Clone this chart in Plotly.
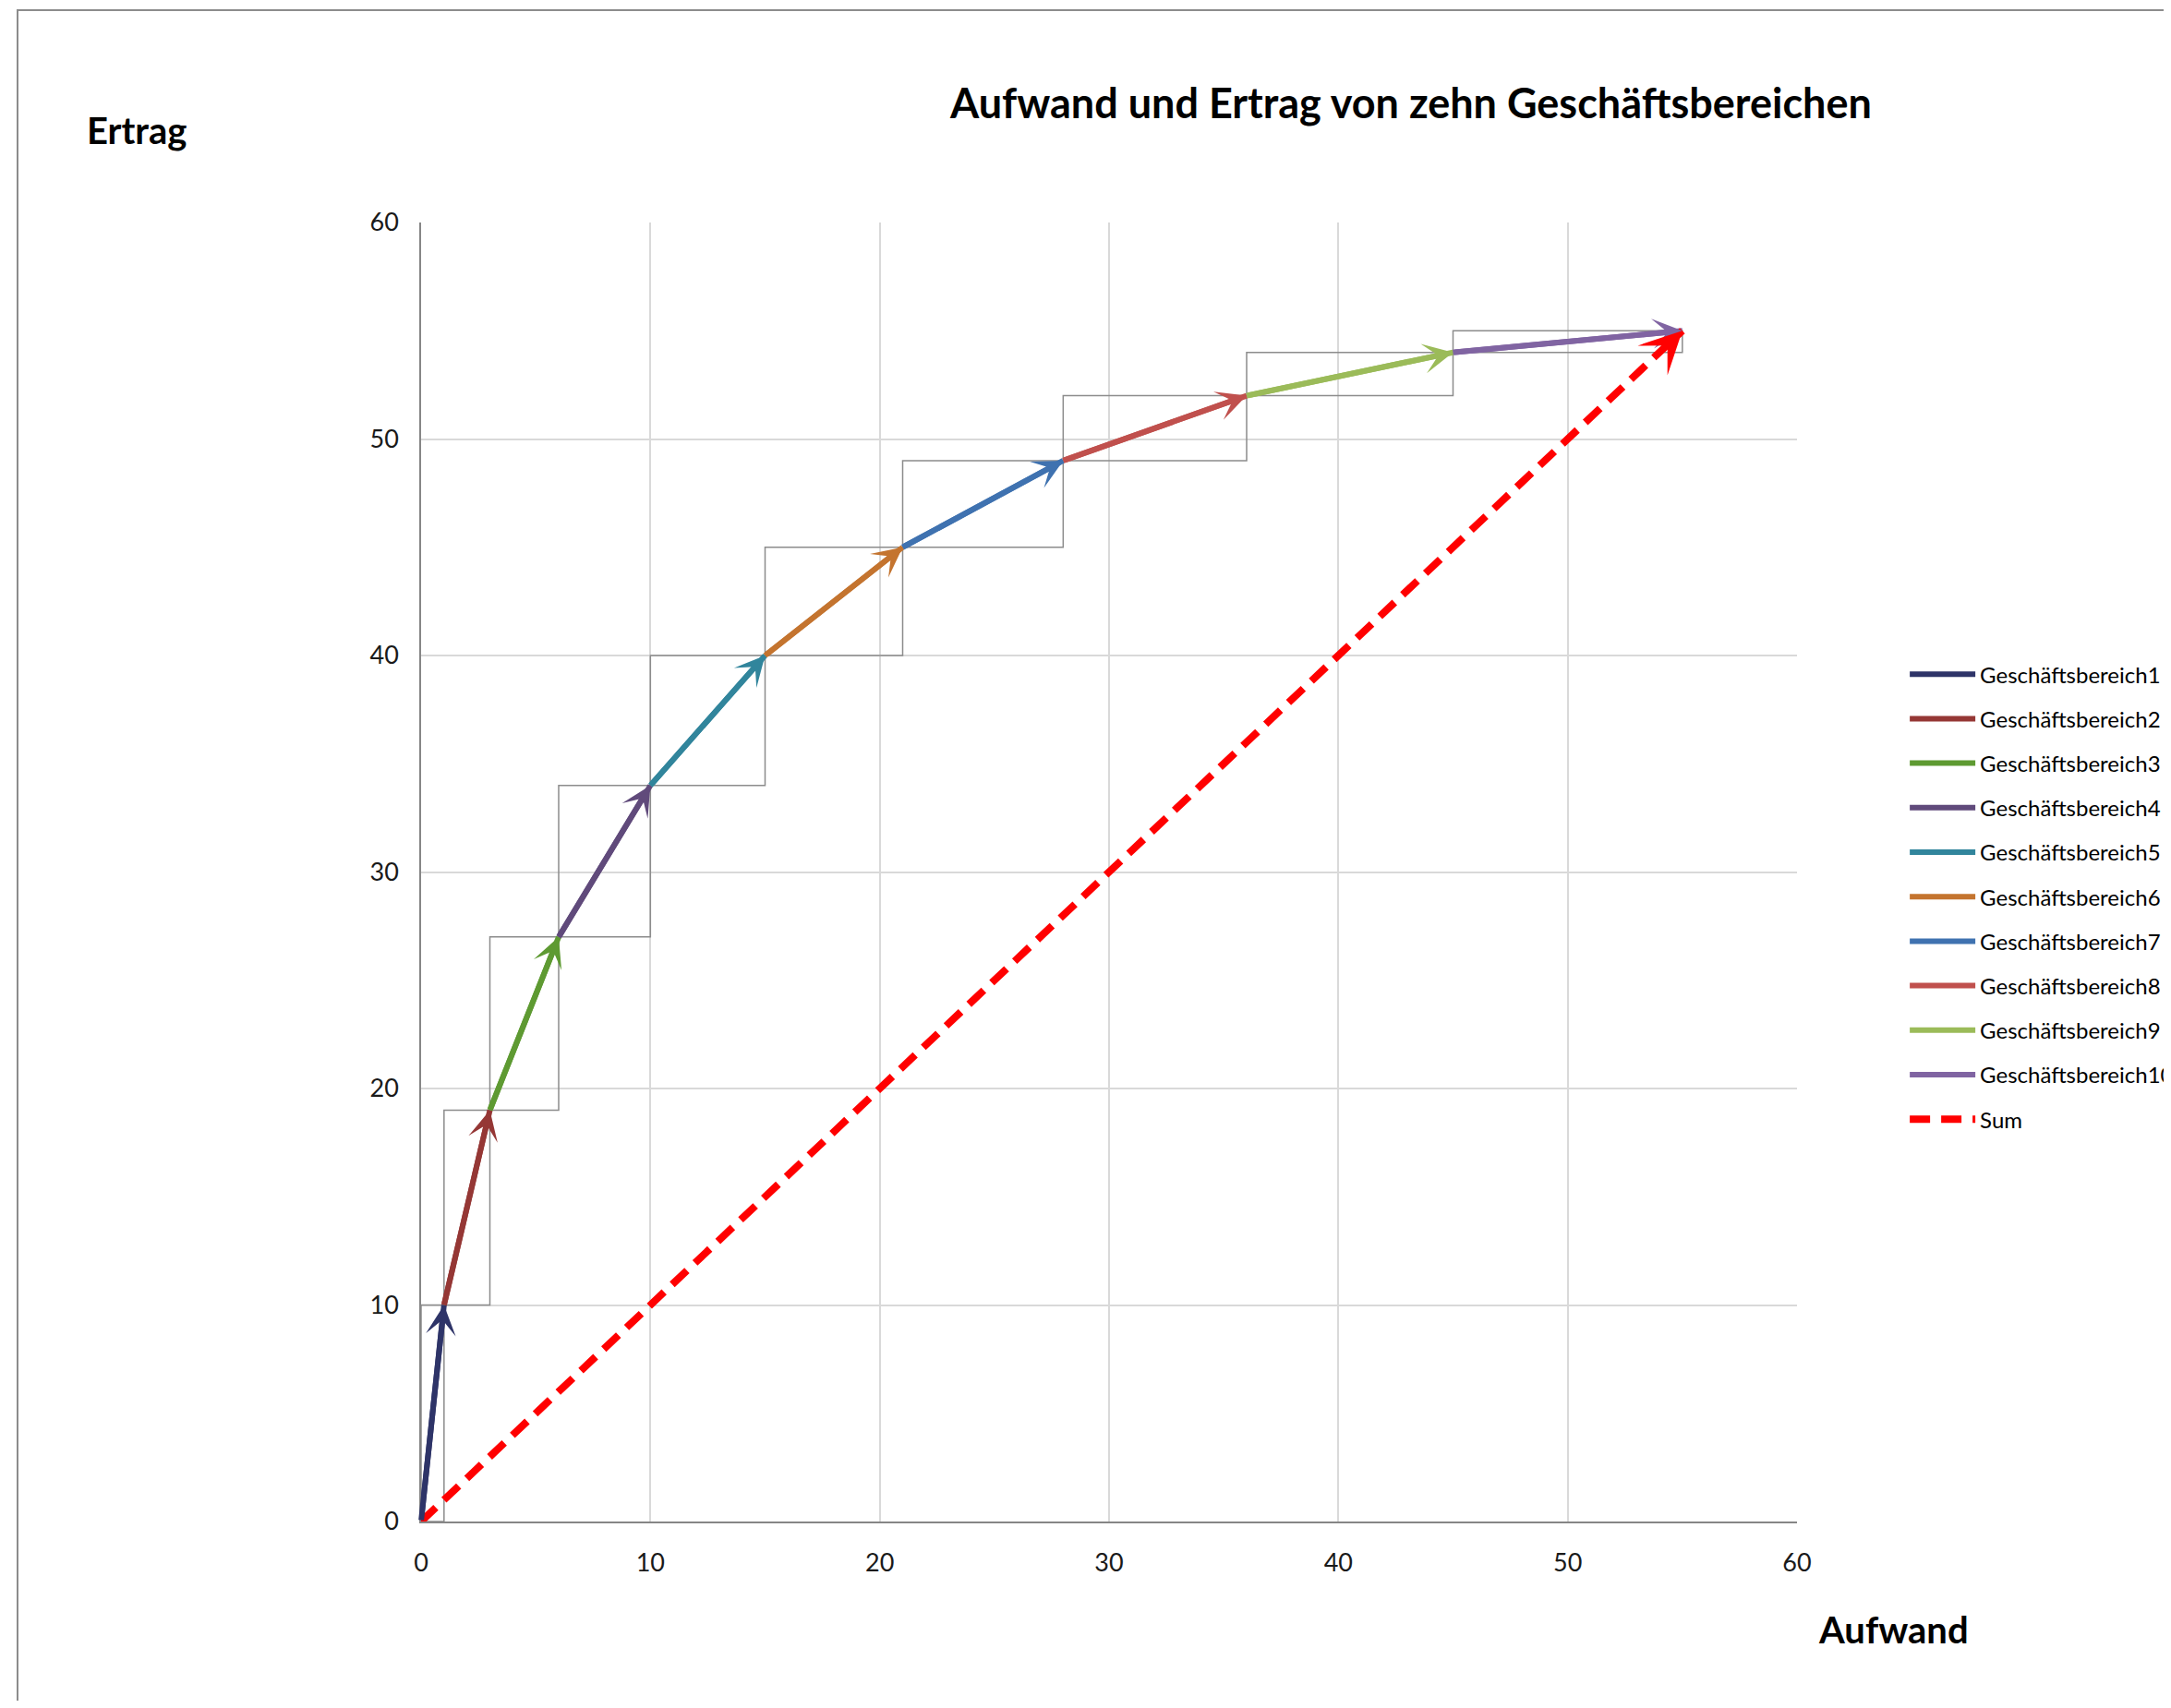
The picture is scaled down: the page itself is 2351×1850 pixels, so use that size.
import plotly.graph_objects as go
import numpy as np

# ---- data ----
bereiche = ["Geschäftsbereich1", "Geschäftsbereich2", "Geschäftsbereich3", "Geschäftsbereich4",
            "Geschäftsbereich5", "Geschäftsbereich6", "Geschäftsbereich7", "Geschäftsbereich8",
            "Geschäftsbereich9", "Geschäftsbereich10"]
aufwand = [1, 2, 3, 4, 5, 6, 7, 8, 9, 10]
ertrag = [10, 9, 8, 7, 6, 5, 4, 3, 2, 1]
colors = ["#2E3468", "#953735", "#5E9A32", "#604A7B", "#31859C",
          "#C4742F", "#3F72B0", "#C0504D", "#9BBB59", "#8064A2"]
sum_label = "Sum"
tick_vals = [0, 10, 20, 30, 40, 50, 60]

FONT = "Lato"
cx = np.concatenate([[0], np.cumsum(aufwand)])
cy = np.concatenate([[0], np.cumsum(ertrag)])

fig = go.Figure()

# grey bounding rectangles
for i in range(len(aufwand)):
    x0, x1, y0, y1 = cx[i], cx[i + 1], cy[i], cy[i + 1]
    fig.add_trace(go.Scatter(x=[x0, x1, x1, x0, x0], y=[y0, y0, y1, y1, y0], mode="lines",
                             line=dict(color="#8C8C8C", width=1.5), showlegend=False,
                             hoverinfo="skip"))

# segment arrows
annotations = []
for i, name in enumerate(bereiche):
    fig.add_trace(go.Scatter(x=[cx[i], cx[i + 1]], y=[cy[i], cy[i + 1]], mode="lines",
                             line=dict(color=colors[i], width=6), name=name,
                             legendgroup=name))
    annotations.append(dict(x=cx[i + 1], y=cy[i + 1], ax=cx[i], ay=cy[i],
                            xref="x", yref="y", axref="x", ayref="y", text="",
                            showarrow=True, arrowhead=3, arrowsize=0.9, arrowwidth=6,
                            arrowcolor=colors[i]))

# sum arrow
fig.add_trace(go.Scatter(x=[cx[0], cx[-1]], y=[cy[0], cy[-1]], mode="lines",
                         line=dict(color="#FF0000", width=8, dash="22px,12px"),
                         name=sum_label, legendgroup=sum_label))
annotations.append(dict(x=cx[-1], y=cy[-1], ax=-12, ay=12, xref="x", yref="y",
                        text="", showarrow=True, arrowhead=3, arrowsize=0.95,
                        arrowwidth=8, arrowcolor="#FF0000"))

# axis labels
annotations += [
    dict(text="<b>Ertrag</b>", xref="paper", yref="paper", x=-0.244, y=1.071,
         xanchor="left", yanchor="middle", showarrow=False,
         font=dict(family=FONT, size=40, color="#000000")),
    dict(text="<b>Aufwand</b>", xref="paper", yref="paper", x=1.014, y=-0.083,
         xanchor="left", yanchor="middle", showarrow=False,
         font=dict(family=FONT, size=40, color="#000000")),
]

fig.update_layout(
    width=2343, height=1834,
    paper_bgcolor="white", plot_bgcolor="white",
    margin=dict(l=448, r=405, t=233, b=194, autoexpand=False),
    title=dict(text="<b>Aufwand und Ertrag von zehn Geschäftsbereichen</b>",
               x=0.6487, xanchor="center", y=0.943, yanchor="middle",
               font=dict(family=FONT, size=45, color="#000000")),
    font=dict(family=FONT, size=24, color="#1A1A1A"),
    xaxis=dict(range=[0, 60], tickvals=tick_vals, showgrid=True, gridcolor="#D9D9D9",
               gridwidth=1.5, zeroline=False, showline=True, linecolor="#868686",
               linewidth=1.5, ticks="", ticklabelstandoff=20,
               tickfont=dict(family=FONT, size=27, color="#1A1A1A")),
    yaxis=dict(range=[0, 60], tickvals=tick_vals, showgrid=True, gridcolor="#D9D9D9",
               gridwidth=1.5, zeroline=False, showline=True, linecolor="#868686",
               linewidth=1.5, ticks="", ticklabelstandoff=17,
               tickfont=dict(family=FONT, size=27, color="#1A1A1A")),
    legend=dict(x=1.0786, y=0.668, xanchor="left", yanchor="top",
                traceorder="grouped", tracegroupgap=14, itemwidth=71,
                font=dict(family=FONT, size=24, color="#000000"),
                bgcolor="rgba(0,0,0,0)"),
    annotations=annotations,
    shapes=[dict(type="rect", xref="paper", yref="paper", x0=-0.2933, x1=1.35,
                 y0=-0.3, y1=1.1635, line=dict(color="#8C8C8C", width=2),
                 fillcolor="rgba(0,0,0,0)", layer="below")],
)

fig.write_html("out.html")
